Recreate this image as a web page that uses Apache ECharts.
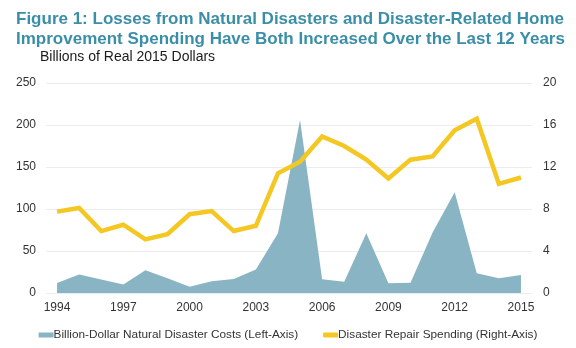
<!DOCTYPE html>
<html>
<head>
<meta charset="utf-8">
<script src="https://cdn.jsdelivr.net/npm/echarts@6/dist/echarts.min.js"></script>
<style>
  html, body { margin: 0; padding: 0; background: #fff; }
  #chart { width: 576px; height: 348px; }
</style>
</head>
<body>
<div id="chart"></div>
<script>
// Years on the horizontal axis
const years = ['1994','1995','1996','1997','1998','1999','2000','2001','2002','2003','2004',
               '2005','2006','2007','2008','2009','2010','2011','2012','2013','2014','2015'];
// Billion-dollar natural disaster costs, billions of real 2015 dollars (left axis)
const disasterCosts = [12, 22, 16, 10, 27, 17.5, 7.5, 14, 16.7, 28, 71,
                       206, 16.3, 13.5, 71, 11.5, 12.3, 72, 120, 23.4, 17.5, 21.4];
// Disaster repair spending, billions of real 2015 dollars (right axis)
const repairSpending = [7.75, 8.1, 5.9, 6.5, 5.1, 5.6, 7.5, 7.8, 5.9, 6.4, 11.4,
                        12.5, 14.9, 14.0, 12.7, 10.9, 12.7, 13.0, 15.5, 16.6, 10.4, 11.0];

const FONT = '"Liberation Sans", Arial, sans-serif';
const BLUE = '#89b4c4';
const GOLD = '#f4c722';
const chart = echarts.init(document.getElementById('chart'), null, { renderer: 'canvas' });

chart.setOption({
  animation: false,
  textStyle: { fontFamily: FONT },
  title: [
    {
      text: 'Figure 1: Losses from Natural Disasters and Disaster-Related Home\nImprovement Spending Have Both Increased Over the Last 12 Years',
      left: 16, top: 9, padding: 0,
      textStyle: { fontFamily: FONT, fontSize: 17, fontWeight: 'bold', color: '#3b8ea8', lineHeight: 20 }
    },
    {
      text: 'Billions of Real 2015 Dollars',
      left: 40, top: 50, padding: 0,
      textStyle: { fontFamily: FONT, fontSize: 14, fontWeight: 'normal', color: '#1a1a1a' }
    }
  ],
  legend: {
    bottom: 2,
    left: 'center',
    itemGap: 25,
    itemWidth: 15,
    itemHeight: 5,
    textStyle: { fontFamily: FONT, fontSize: 11.8, color: '#333', padding: [0, 0, 0, -5] },
    data: [
      { name: 'Billion-Dollar Natural Disaster Costs (Left-Axis)', icon: 'rect', itemStyle: { color: BLUE } },
      { name: 'Disaster Repair Spending (Right-Axis)', icon: 'roundRect', itemStyle: { color: GOLD } }
    ]
  },
  grid: { left: 46, right: 44, top: 83, bottom: 55, containLabel: false },
  xAxis: {
    type: 'category',
    data: years,
    boundaryGap: true,
    axisLine: { show: false },
    axisTick: { show: false },
    axisLabel: { interval: 2, color: '#333', fontSize: 12, margin: 9, fontFamily: FONT }
  },
  yAxis: [
    {
      type: 'value', min: 0, max: 250, interval: 50,
      axisLine: { show: false }, axisTick: { show: false },
      axisLabel: { color: '#333', fontSize: 12, margin: 10, fontFamily: FONT },
      splitLine: { lineStyle: { color: '#ececec', width: 1 } }
    },
    {
      type: 'value', min: 0, max: 20, interval: 4,
      axisLine: { show: false }, axisTick: { show: false },
      axisLabel: { color: '#333', fontSize: 12, margin: 11, fontFamily: FONT },
      splitLine: { show: false }
    }
  ],
  series: [
    {
      name: 'Billion-Dollar Natural Disaster Costs (Left-Axis)',
      type: 'line',
      yAxisIndex: 0,
      data: disasterCosts,
      symbol: 'none',
      lineStyle: { width: 0 },
      itemStyle: { color: BLUE },
      areaStyle: { color: BLUE, opacity: 1 }
    },
    {
      name: 'Disaster Repair Spending (Right-Axis)',
      type: 'line',
      yAxisIndex: 1,
      data: repairSpending,
      symbol: 'none',
      lineStyle: { width: 4.5, color: GOLD, join: 'miter' },
      itemStyle: { color: GOLD }
    }
  ]
});
</script>
</body>
</html>
